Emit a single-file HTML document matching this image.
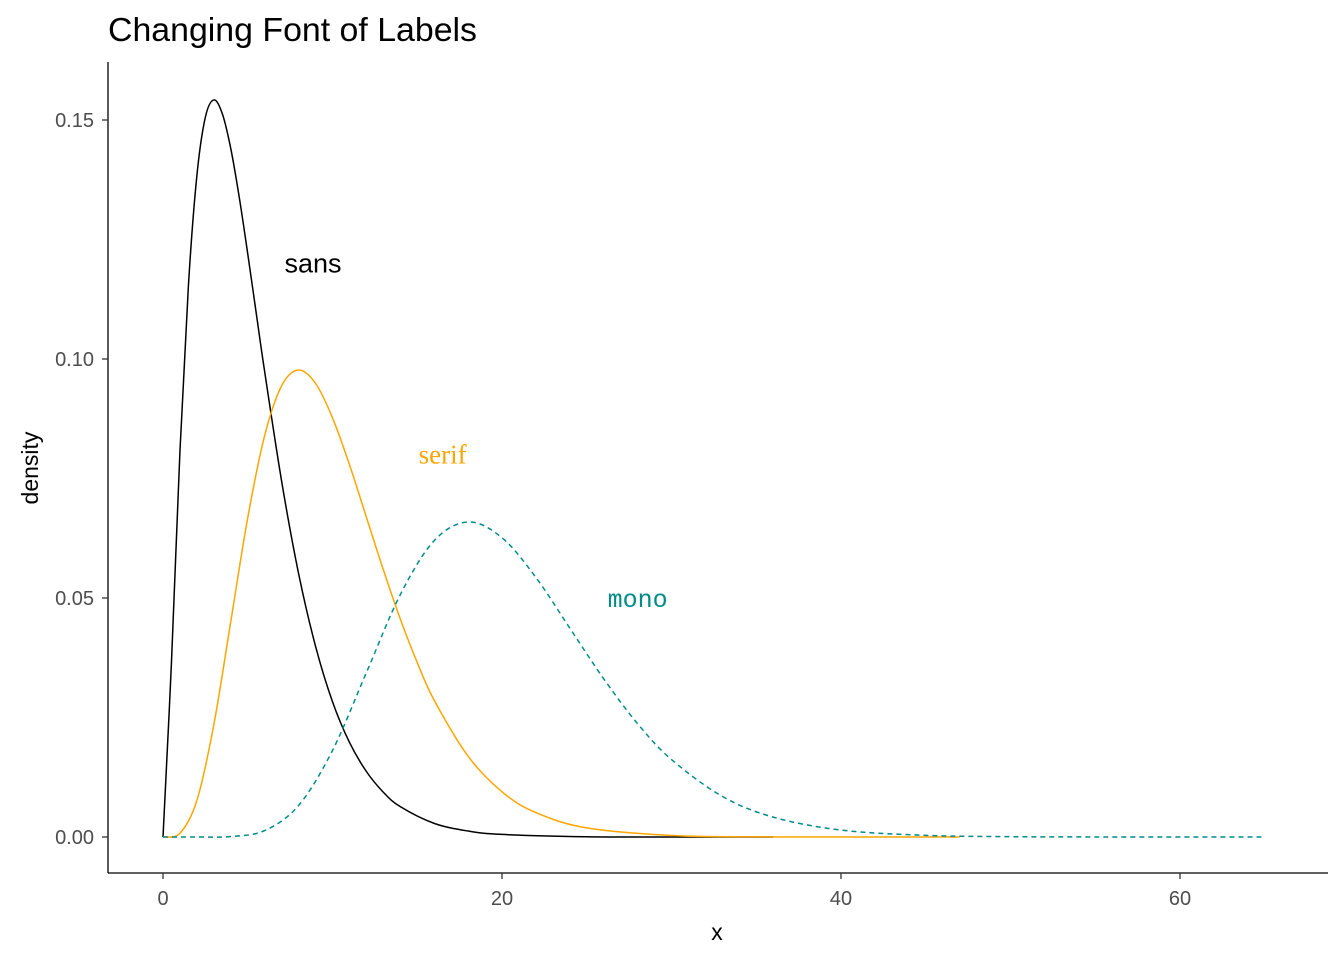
<!DOCTYPE html>
<html><head><meta charset="utf-8"><style>
html,body{margin:0;padding:0;background:#fff;}
svg{display:block;font-family:"Liberation Sans",sans-serif;}
</style></head><body>
<svg id="chart" width="1344" height="960" viewBox="0 0 1344 960" xmlns="http://www.w3.org/2000/svg">
<rect width="1344" height="960" fill="#fff"/>
<text x="108" y="41" font-size="33" fill="#000" textLength="369" lengthAdjust="spacingAndGlyphs">Changing Font of Labels</text>
<g id="axes"></g>
<g id="series"></g>
<g id="labels"></g>
<text x="717" y="940" font-size="23" text-anchor="middle" fill="#000">x</text>
<text transform="translate(38,468) rotate(-90)" font-size="23" text-anchor="middle" fill="#000">density</text>
</svg>
<script>
const xTicks = [0, 20, 40, 60];
const yTicks = [0, 0.05, 0.10, 0.15];
const yTickLabels = ["0.00", "0.05", "0.10", "0.15"];

const sansX = [0,0.5,1,1.5,2,2.5,3,3.5,4,4.5,5,5.5,6,7,8,9,10,11,12,13,14,16,18,20,25,30,36];
const sansY = [0,0.0366,0.0807,0.1154,0.1384,0.1506,0.1542,0.1513,0.1440,0.1338,0.1220,0.1096,0.0973,0.0744,0.0551,0.0399,0.0283,0.0198,0.0137,0.00937,0.00635,0.00285,0.00125,0.00054,0.00006,0,0];
const serifX = [0,1,2,3,4,5,6,7,8,9,10,11,12,13,14,15,16,18,20,22,25,30,35,40,47];
const serifY = [0,0.00079,0.00766,0.0235,0.0451,0.0668,0.0840,0.0944,0.0977,0.0949,0.0877,0.0779,0.0669,0.0559,0.0456,0.0365,0.0286,0.0169,0.00946,0.0051,0.0019,0.00032,0.00004,0,0];
const monoX = [0,2,4,6,8,10,12,14,16,18,20,22,24,26,28,30,33,36,40,45,50,55,65];
const monoY = [0,0,0.000095,0.00135,0.0066,0.0181,0.0344,0.0507,0.0620,0.0659,0.0626,0.0543,0.0437,0.0331,0.0237,0.0162,0.0085,0.00416,0.00145,0.00034,0.00007,0.00001,0];

const labelText = ["sans", "serif", "mono"];
const labelX = [8.85, 16.5, 28];
const labelY = [0.12, 0.08, 0.05];

const NS = "http://www.w3.org/2000/svg";
const sx = v => 163 + v * (502 - 163) / 20;
const sy = v => 837 - v * (837 - 120) / 0.15;

function mk(tag, attrs, parent) {
  const e = document.createElementNS(NS, tag);
  for (const k in attrs) e.setAttribute(k, attrs[k]);
  parent.appendChild(e);
  return e;
}
const axes = document.getElementById('axes');
const ya = mk('line', {x1:108,y1:62,x2:108,y2:873,stroke:'#000','stroke-width':1.3}, axes);


const xa = mk('line', {x1:108,y1:873,x2:1328,y2:873,stroke:'#000','stroke-width':1.3}, axes);


xTicks.forEach(t => {
  const l = mk('line', {x1:sx(t),y1:873,x2:sx(t),y2:879,stroke:'#333','stroke-width':1.3}, axes);
  
  
  const tx = mk('text', {x:sx(t),y:905,'font-size':20,'text-anchor':'middle',fill:'#4d4d4d'}, axes);
  tx.textContent = String(t);
  
  
});
yTicks.forEach((t, i) => {
  const l = mk('line', {x1:102,y1:sy(t),x2:108,y2:sy(t),stroke:'#333','stroke-width':1.3}, axes);
  
  
  const tx = mk('text', {x:94,y:sy(t)+7,'font-size':20,'text-anchor':'end',fill:'#4d4d4d'}, axes);
  tx.textContent = yTickLabels[i];
  
  
});

function smoothPath(xs, ys) {
  const p = xs.map((x, i) => [sx(x), sy(ys[i])]);
  let d = 'M' + p[0][0] + ',' + p[0][1];
  for (let i = 0; i < p.length - 1; i++) {
    const p0 = p[Math.max(0, i - 1)], p1 = p[i], p2 = p[i + 1], p3 = p[Math.min(p.length - 1, i + 2)];
    const c1 = [p1[0] + (p2[0] - p0[0]) / 6, p1[1] + (p2[1] - p0[1]) / 6];
    const c2 = [p2[0] - (p3[0] - p1[0]) / 6, p2[1] - (p3[1] - p1[1]) / 6];
    d += ' C' + c1[0] + ',' + c1[1] + ' ' + c2[0] + ',' + c2[1] + ' ' + p2[0] + ',' + p2[1];
  }
  return d;
}
const series = document.getElementById('series');
const s1 = mk('path', {d:smoothPath(sansX, sansY), fill:'none', stroke:'#000', 'stroke-width':1.5}, series);


const s2 = mk('path', {d:smoothPath(serifX, serifY), fill:'none', stroke:'#FFA500', 'stroke-width':1.5}, series);


const s3 = mk('path', {d:smoothPath(monoX, monoY), fill:'none', stroke:'#008B8B', 'stroke-width':1.5, 'stroke-dasharray':'5,4'}, series);



const labels = document.getElementById('labels');
const fonts = ['"Liberation Sans", sans-serif', '"Liberation Serif", serif', '"Liberation Mono", monospace'];
const colors = ['#000', '#FFA500', '#008B8B'];
const sizes = [27, 27, 25];
labelText.forEach((t, i) => {
  const tx = mk('text', {x:sx(labelX[i]), y:sy(labelY[i]) + 9, 'font-size':sizes[i], 'text-anchor':'middle', fill:colors[i], 'font-family':fonts[i]}, labels);
  tx.textContent = t;
  
  
});
</script>
</body></html>
